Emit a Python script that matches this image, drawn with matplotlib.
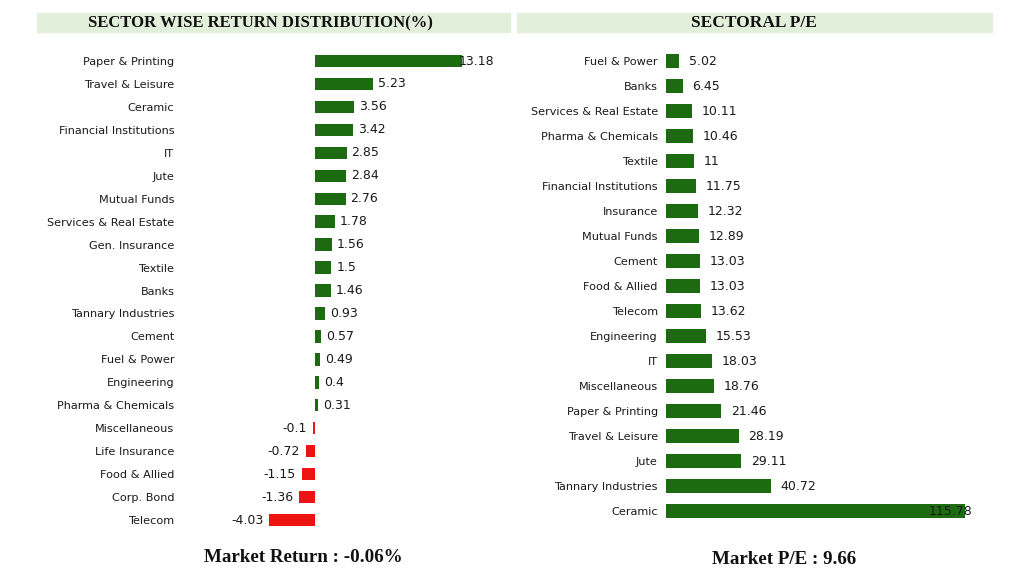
import matplotlib.pyplot as plt
from matplotlib.patches import Rectangle

# sector returns (%)
ret_sectors = ["Paper & Printing", "Travel & Leisure", "Ceramic", "Financial Institutions", "IT",
               "Jute", "Mutual Funds", "Services & Real Estate", "Gen. Insurance", "Textile",
               "Banks", "Tannary Industries", "Cement", "Fuel & Power", "Engineering",
               "Pharma & Chemicals", "Miscellaneous", "Life Insurance", "Food & Allied",
               "Corp. Bond", "Telecom"]
ret_values = [13.18, 5.23, 3.56, 3.42, 2.85, 2.84, 2.76, 1.78, 1.56, 1.5, 1.46, 0.93, 0.57,
              0.49, 0.4, 0.31, -0.1, -0.72, -1.15, -1.36, -4.03]
ret_labels = ["13.18", "5.23", "3.56", "3.42", "2.85", "2.84", "2.76", "1.78", "1.56", "1.5",
              "1.46", "0.93", "0.57", "0.49", "0.4", "0.31", "-0.1", "-0.72", "-1.15", "-1.36",
              "-4.03"]

# sectoral P/E
pe_sectors = ["Fuel & Power", "Banks", "Services & Real Estate", "Pharma & Chemicals", "Textile",
              "Financial Institutions", "Insurance", "Mutual Funds", "Cement", "Food & Allied",
              "Telecom", "Engineering", "IT", "Miscellaneous", "Paper & Printing",
              "Travel & Leisure", "Jute", "Tannary Industries", "Ceramic"]
pe_values = [5.02, 6.45, 10.11, 10.46, 11, 11.75, 12.32, 12.89, 13.03, 13.03, 13.62, 15.53,
             18.03, 18.76, 21.46, 28.19, 29.11, 40.72, 115.78]
pe_labels = ["5.02", "6.45", "10.11", "10.46", "11", "11.75", "12.32", "12.89", "13.03", "13.03",
             "13.62", "15.53", "18.03", "18.76", "21.46", "28.19", "29.11", "40.72", "115.78"]

market_return = "-0.06%"
market_pe = "9.66"

GREEN = "#1d6b10"
RED = "#ee1414"
BAND = "#e2efda"
TXT = "#1a1a1a"

fig = plt.figure(figsize=(10.24, 5.83), dpi=100)


def bar_panel(ax, names, vals, labels, xlim, colors, pad):
    y = range(len(names))
    ax.barh(list(y), vals, height=0.54, color=colors)
    ax.set_xlim(*xlim)
    ax.set_ylim(len(names) - 0.5, -0.5)
    ax.set_yticks(list(y))
    ax.set_yticklabels(names, fontsize=8.1, color=TXT)
    ax.tick_params(axis="y", length=0, pad=4)
    ax.set_xticks([])
    for s in ax.spines.values():
        s.set_visible(False)
    for i, (v, lab) in enumerate(zip(vals, labels)):
        if v >= 0:
            if v > 0.8 * xlim[1]:
                # too long: pin the label to the right edge
                ax.text(xlim[1], i, lab, ha="right", va="center", fontsize=9, color=TXT)
            else:
                ax.annotate(lab, (v, i), xytext=(pad, 0), textcoords="offset points",
                            ha="left", va="center", fontsize=9, color=TXT)
        else:
            ax.annotate(lab, (v, i), xytext=(-4.5, 0), textcoords="offset points",
                        ha="right", va="center", fontsize=9, color=TXT)


ax1 = fig.add_axes([0.1758, 0.0883, 0.3066, 0.8267])
bar_panel(ax1, ret_sectors, ret_values, ret_labels, (-12, 16),
          [GREEN if v >= 0 else RED for v in ret_values], 3.6)

ax2 = fig.add_axes([0.6478, 0.102, 0.3023, 0.8148])
bar_panel(ax2, pe_sectors, pe_values, pe_labels, (-1, 119), [GREEN] * len(pe_values), 7)

# title bands
fig.add_artist(Rectangle((37 / 1024, 1 - 32 / 583), 473 / 1024, 19 / 583,
                         transform=fig.transFigure, color=BAND, zorder=0))
fig.add_artist(Rectangle((517 / 1024, 1 - 32 / 583), 475 / 1024, 19 / 583,
                         transform=fig.transFigure, color=BAND, zorder=0))
fig.text(260 / 1024, 1 - 23 / 583, "SECTOR WISE RETURN DISTRIBUTION(%)", ha="center", va="center",
         fontsize=12, fontweight="bold", family="Liberation Serif", color="#111111")
fig.text(754 / 1024, 1 - 23 / 583, "SECTORAL P/E", ha="center", va="center",
         fontsize=12.5, fontweight="bold", family="Liberation Serif", color="#111111")

fig.text(303 / 1024, 1 - 558 / 583, "Market Return : " + market_return, ha="center", va="center",
         fontsize=13.7, fontweight="bold", family="Liberation Serif", color="#111111")
fig.text(784 / 1024, 1 - 560 / 583, "Market P/E : " + market_pe, ha="center", va="center",
         fontsize=13.7, fontweight="bold", family="Liberation Serif", color="#111111")

fig.savefig("out.png", dpi=100)
